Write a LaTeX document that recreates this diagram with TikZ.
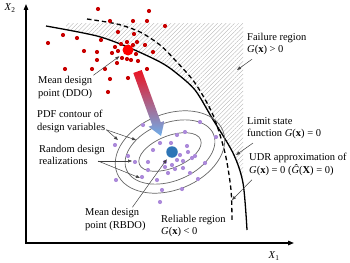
\documentclass[tikz,border=0pt]{standalone}
\usepackage{fontspec}
\setmainfont{Liberation Serif}
\usetikzlibrary{arrows.meta,patterns.meta,positioning}

\definecolor{ddored}{RGB}{200,0,0}
\definecolor{bigred}{RGB}{255,0,0}
\definecolor{lilac}{RGB}{172,138,218}
\definecolor{rbdoblue}{RGB}{46,117,182}
\definecolor{arrowred}{RGB}{235,20,35}
\definecolor{arrowblue}{RGB}{110,175,235}

\begin{document}
\begin{tikzpicture}[x=1pt, y=-1pt,
    % Stili per le curve
    limitcurve/.style={line width=1.3pt, black},
    udrcurve/.style={line width=1.3pt, black, dash pattern=on 4.5pt off 3pt},
    contour/.style={black!60, line width=0.7pt},
    % Stili per i punti medi
    meanpoint/.style={circle, inner sep=0pt, minimum size=11pt},
    % Stili per le frecce
    axis/.style={line width=1.3pt, {Triangle[length=6pt,width=4.5pt]}-{Triangle[length=6pt,width=4.5pt]}},
    pointer/.style={-{Triangle[length=4pt,width=3pt]}, black!75, line width=0.5pt},
    % Stili per le etichette
    note/.style={font=\fontsize{10.5}{12.5}\selectfont, align=left, anchor=west, inner sep=1pt}
]
\useasboundingbox (0,0) rectangle (350,262);

% Assi
\coordinate (origin) at (26,243);
\coordinate (x2end) at (26,4);
\coordinate (x1end) at (294,243);
\draw[axis] (x2end) -- (origin) -- (x1end);
\node[note, anchor=center] (x2lbl) at (10,8) {\textit{X}\textsubscript{2}};
\node[note, anchor=center] (x1lbl) at (274,256) {\textit{X}\textsubscript{1}};

% Regione di rottura (tratteggio)
\begin{scope}
    \clip plot[smooth] coordinates {(46,26) (97,36) (130,48) (160,62) (175,72) (195,90) (212,118) (233,153) (243,183) (247,230)}
        -- (350,230) -- (350,0) -- (40,0) -- cycle;
    \fill[pattern={Lines[angle=45,distance=3pt,line width=0.35pt]}, pattern color=gray!60]
        (66,24) rectangle (243,190);
\end{scope}

% Funzione di stato limite e approssimazione UDR
\draw[limitcurve] plot[smooth] coordinates {(46,26) (97,36) (130,48) (160,62) (175,72) (195,90) (212,118) (233,153) (243,183) (247,230)};
\draw[udrcurve] plot[smooth] coordinates {(87,19) (117,24) (140,32) (160,45) (175,60) (195,83) (213,115) (225,153) (231,190) (232,222)};

% Contorni PDF
\coordinate (pdfc) at (170,152);
\draw[contour, rotate around={22:(pdfc)}] (pdfc) ellipse [x radius=57pt, y radius=38pt];
\draw[contour, rotate around={22:(pdfc)}] (pdfc) ellipse [x radius=47pt, y radius=29pt];
\draw[contour, rotate around={22:(pdfc)}] (pdfc) ellipse [x radius=33pt, y radius=16pt];

% Realizzazioni casuali
\foreach \x/\y in {98/9, 149/11, 110/21, 147/21, 133/21, 118/32, 134/34, 63/35, 77/38, 101/40,
    48/43, 127/42, 137/42, 121/44, 115/47, 133/45, 145/45, 84/51, 97/52, 112/53, 118/51,
    136/54, 153/52, 122/58, 127/59, 131/60, 138/61, 97/60, 117/63, 65/69, 92/69, 105/69,
    147/69, 110/79, 128/78, 108/92, 165/26}
    \fill[ddored] (\x,\y) circle (2.1pt);
\foreach \x/\y in {200/122, 143/125, 177/135, 185/132, 160/143, 171/143, 115/145, 187/146,
    153/150, 188/152, 180/155, 192/158, 148/162, 177/160, 165/162, 135/162, 205/163, 172/165,
    165/167, 183/168, 175/169, 190/173, 168/173, 148/170, 198/179, 157/180, 116/180, 142/177,
    162/190, 182/189, 160/202, 216/137, 128/156, 195/156, 183/161}
    \fill[lilac] (\x,\y) circle (2.1pt);

% Punti medi di progetto
\node[meanpoint, fill=bigred] (ddo) at (128,50) {};
\node[meanpoint, fill=rbdoblue, minimum size=11.5pt] (rbdo) at (172,152) {};

% Freccia DDO -> RBDO (sfumata)
\shade[top color=arrowred, bottom color=arrowblue]
    (141.7,70.0) -- (160.8,122.3) -- (164.5,120.9) -- (161,136) -- (148.6,126.7)
    -- (152.3,125.3) -- (133.3,73.0) -- cycle;

% Etichette
\node[note] (ddolbl) at (37,87.5) {Mean design\\point (DDO)};
\node[note] (pdflbl) at (36,121.5) {PDF contour of\\design variables};
\node[note] (rndlbl) at (38,155) {Random design\\realizations};
\node[note] (rbdolbl) at (84,219.5) {Mean design\\point (RBDO)};
\node[note] (rellbl) at (160,226) {Reliable region\\\textit{G}(\textbf{x}) < 0};
\node[note] (faillbl) at (246,44) {Failure region\\\textit{G}(\textbf{x}) > 0};
\node[note] (limlbl) at (246,128) {Limit state\\function \textit{G}(\textbf{x}) = 0};
\node[note] (udrlbl) at (248,164.5) {UDR approximation of\\\textit{G}(\textbf{x}) = 0 (\textit{Ĝ}(\textbf{X}) = 0)};

% Punti di arrivo delle frecce
\coordinate (pdfout) at (118,140);
\coordinate (pdfmid) at (136,140);
\coordinate (rnda) at (132,161);
\coordinate (rndb) at (140,178);
\coordinate (failpt) at (237,70);
\coordinate (limpt) at (236,155);
\coordinate (udrpt) at (232,200);

% Frecce delle etichette
\draw[pointer, shorten >=5pt] (ddolbl.north east) -- (ddo);
\draw[pointer, shorten >=3pt] ([xshift=17pt]rbdolbl.north) -- (rbdo);
\foreach \tgt in {pdfout, pdfmid} {
    \draw[pointer] ([yshift=4pt]pdflbl.south east) -- (\tgt);
}
\foreach \tgt in {rnda, rndb} {
    \draw[pointer] ([xshift=-8pt,yshift=-6pt]rndlbl.east) -- (\tgt);
}
\draw[pointer] ([xshift=6pt,yshift=-3pt]faillbl.south west) -- (failpt);
\draw[pointer] ([xshift=7pt,yshift=-3pt]limlbl.south west) -- (limpt);
\draw[pointer] ([xshift=4pt,yshift=-3pt]udrlbl.south west) -- (udrpt);

\end{tikzpicture}
\end{document}
